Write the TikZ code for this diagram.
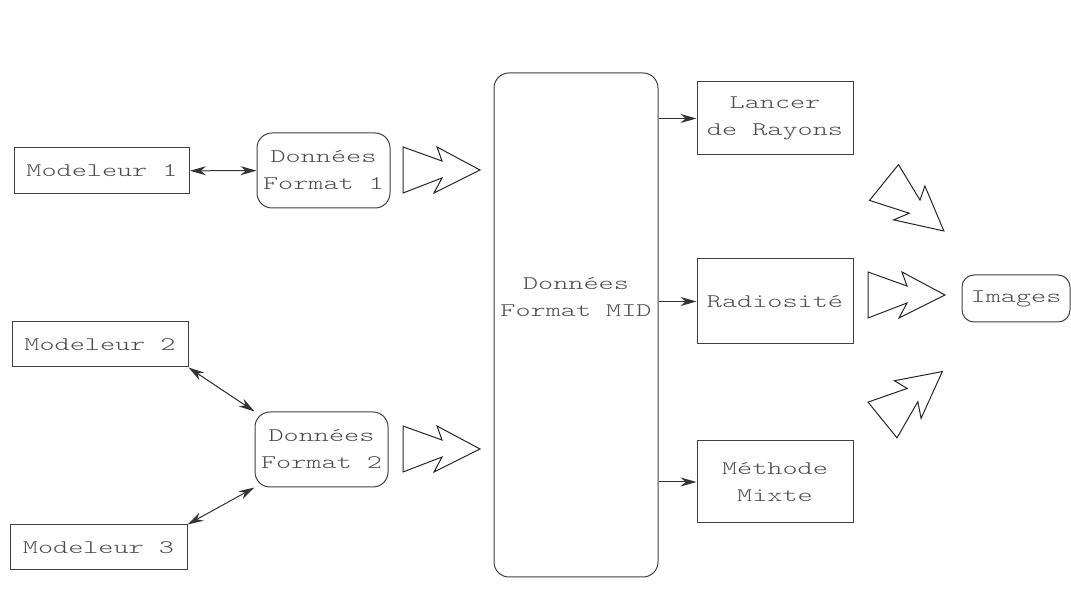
\documentclass[tikz,border=0pt]{standalone}
\usepackage{fontspec}
\newfontfamily\diafont[FakeStretch=1.5]{lmmonolt10-regular.otf}
\usetikzlibrary{arrows.meta,shapes}
\usepackage{color}

\tikzset{eclair/.pic={
    \draw[line width=0.5pt,black!85] (0,-23) -- (39,-9) -- (34,-23) -- (77,0)
        -- (31,23) -- (39,8) -- (0,23) -- cycle;
}}

\begin{document}
\begin{tikzpicture}[x=0.5pt,y=-0.5pt,
            font=\diafont\fontsize{9.6}{13.5}\selectfont,
            >={Stealth[length=8pt,width=4.5pt]},
            box/.style={draw=black!75,line width=0.5pt,text=black!70,align=center,
                inner sep=0pt,minimum width=78pt},
            rbox/.style={box,rounded corners=7.5pt},
        ]
        \useasboundingbox (0,0) rectangle (1071,603);
        % modeleurs
        \node[box,minimum width=87.5pt,minimum height=23pt] (mod1) at (102,171) {Modeleur 1};
        \node[box,minimum width=88pt,minimum height=22.5pt] (mod2) at (100,344.5) {Modeleur 2};
        \node[box,minimum width=88.5pt,minimum height=22.5pt] (mod3) at (98.5,547.5) {Modeleur 3};
        % formats
        \node[rbox,minimum width=66.5pt,minimum height=37.5pt] (don1) at (323.5,170.5) {Donn\'ees\\Format 1};
        \node[rbox,minimum width=66.5pt,minimum height=37.5pt] (don2) at (321.5,449.5) {Donn\'ees\\Format 2};
        \node[rbox,minimum width=82pt,minimum height=252pt] (mid) at (576,325) {};
        \node[align=center,text=black!70] (midlbl) at (576,297) {Donn\'ees\\Format MID};
        % rendus
        \node[box,minimum height=36.5pt] (lancer) at (775,118.5) {Lancer\\de Rayons};
        \node[box,minimum height=42.5pt] (radio) at (775,301.5) {Radiosit\'e};
        \node[box,minimum height=41pt] (mixte) at (775,482) {M\'ethode\\Mixte};
        \node[rbox,rounded corners=6pt,minimum width=54pt,minimum height=23.5pt] (img) at (1016,298.5) {Images};

        \draw[<->,line width=0.5pt,black!80] (mod1) -- (don1);
        \draw[<->,line width=0.5pt,black!80] (mod2.south east) -- (don2.north west);
        \draw[<->,line width=0.5pt,black!80] (mod3.north east) -- (don2.south west);
        \draw[->,line width=0.5pt,black!80] (mid.east |- lancer.west) -- (lancer.west);
        \draw[->,line width=0.5pt,black!80] (mid.east |- radio.west) -- (radio.west);
        \draw[->,line width=0.5pt,black!80] (mid.east |- mixte.west) -- (mixte.west);

        \pic at (403,170) {eclair};
        \pic at (403,449) {eclair};
        \pic at (868,295) {eclair};
        \pic[rotate=-39] at (884,182.5) {eclair};
        \pic[rotate=39] at (882.5,420) {eclair};
    \end{tikzpicture}
\end{document}
